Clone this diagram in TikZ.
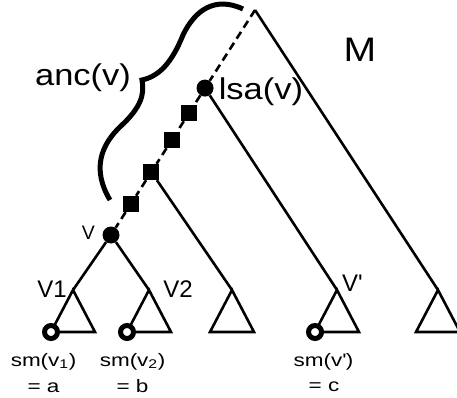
\documentclass[tikz,border=0pt]{standalone}
\usepackage{fontspec}
\setmainfont{Liberation Sans}
\newfontfamily\lblfont{Liberation Sans}[FakeStretch=1.15]
\newfontfamily\smfont{Liberation Sans}[FakeStretch=1.25]
\usetikzlibrary{calc}

\begin{document}
\begin{tikzpicture}[
    x=1pt, y=-1pt,
    edge/.style={line width=2.6pt},
    ancpath/.style={edge, dash pattern=on 8pt off 5pt},
    dot/.style={circle, fill=black, inner sep=0pt, minimum size=17pt},
    sq/.style={rectangle, fill=black, inner sep=0pt, minimum size=16pt},
    leaf/.style={circle, draw, fill=white, line width=5pt, inner sep=0pt, minimum size=13pt},
    biglabel/.style={inner sep=0pt, anchor=base, font=\lblfont\fontsize{30}{32}\selectfont},
    vlabel/.style={inner sep=0pt, anchor=base, font=\rmfamily\fontsize{24}{26}\selectfont},
    smlabel/.style={inner sep=0pt, anchor=base, font=\smfont\fontsize{18}{20}\selectfont}]

    \useasboundingbox (0,0) rectangle (457,398);

    % root of M and the node v
    \coordinate (root) at (255,10);
    \node[dot] at (111,235) (v) {};

    % lsa(v) and the ancestors between it and v
    \node[dot] at ($(root)!0.347!(v)$) (lsa) {};
    \node[sq] at ($(root)!0.458!(v)$) (s1) {};
    \node[sq] at ($(root)!0.578!(v)$) (s2) {};
    \node[sq] at ($(root)!0.72!(v)$) (s3) {};
    \node[sq] at ($(root)!0.862!(v)$) (s4) {};

    % apexes of the subtrees
    \coordinate (t1) at (73,290);
    \coordinate (t2) at (149,290);
    \coordinate (t3) at (232,290);
    \coordinate (t4) at (337,290);
    \coordinate (t5) at (438,290);

    % path from the root down to v
    \draw[ancpath] (root) -- (lsa) -- (s1) -- (s2) -- (s3) -- (s4) -- (v);

    % branches
    \draw[edge] (root) -- (t5);
    \draw[edge] (lsa) -- (t4);
    \draw[edge] (s3) -- (t3);
    \draw[edge] (v) -- (t1);
    \draw[edge] (v) -- (t2);

    % subtrees
    \foreach \t in {t1,t2,t3,t4,t5}
        \draw[edge, line join=miter] (\t) -- ++(-22,42) -- ++(44,0) -- cycle;

    % smallest leaves
    \node[leaf] at ($(t1)+(-22,42)$) (l1) {};
    \node[leaf] at ($(t2)+(-22,42)$) (l2) {};
    \node[leaf] at ($(t4)+(-22,42)$) (l4) {};

    % brace for anc(v)
    \draw[line width=5pt] (243,9) .. controls (215,-4) and (195,10) .. (183,35)
        .. controls (172,62) and (160,76) .. (142,80)
        .. controls (145,95) and (140,108) .. (122,125)
        .. controls (100,145) and (92,170) .. (110,200);

    % labels
    \node[biglabel] at (83,86) (ancv) {anc(v)};
    \node[biglabel] at (261,100) (lsav) {lsa(v)};
    \node[biglabel, font=\lblfont\fontsize{34}{36}\selectfont] at (360,62) (mname) {M};
    \node[vlabel, font=\rmfamily\fontsize{19.5}{21}\selectfont] at (88.5,239) (vname) {V};
    \node[vlabel] at (52,297) (vonename) {V1};
    \node[vlabel] at (178,297) (vtwoname) {V2};
    \node[vlabel] at (352.5,291) (vpname) {V\textquotesingle};

    \node[smlabel] at (43.5,366) (smone) {sm(v\textsubscript{1})};
    \node[smlabel] at (43.5,392) (eqa) {= a};
    \node[smlabel] at (132.5,366) (smtwo) {sm(v\textsubscript{2})};
    \node[smlabel] at (132.5,392) (eqb) {= b};
    \node[smlabel] at (323.5,366) (smp) {sm(v\textquotesingle)};
    \node[smlabel] at (324,391) (eqc) {= c};

\end{tikzpicture}
\end{document}
